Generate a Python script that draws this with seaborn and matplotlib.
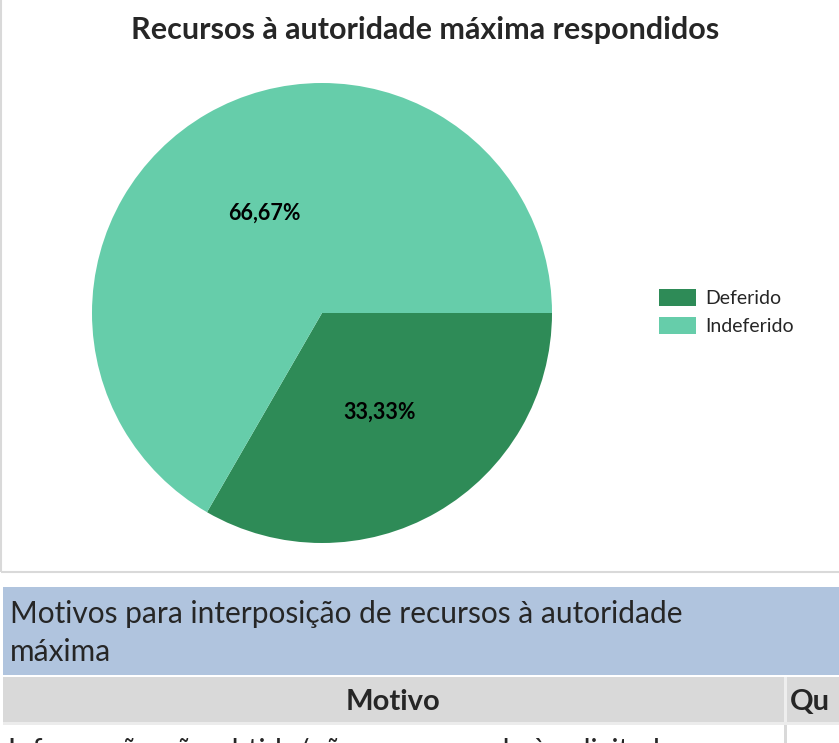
import matplotlib
matplotlib.use("Agg")
import matplotlib.pyplot as plt
from matplotlib.patches import Rectangle
import seaborn as sns

# data
categorias = ["Deferido", "Indeferido"]
quantidades = [1, 2]
cores = ["#2E8B57", "#66CDAA"]

titulo = "Recursos à autoridade máxima respondidos"
titulo_tabela = "Motivos para interposição de recursos à autoridade\nmáxima"
colunas_tabela = ["Motivo", "Qu"]
primeira_linha = "Informação não obtida/não corresponde à solicitada"

sns.set_theme(style="white")
plt.rcParams["font.family"] = ["Lato", "DejaVu Sans"]

W, H = 839, 743
fig = plt.figure(figsize=(W / 100, H / 100), dpi=100)
fig.patch.set_facecolor("white")


def px_rect(x0, y0, x1, y1, **kw):
    # rectangle given in image pixels (y from the top)
    r = Rectangle((x0 / W, 1 - y1 / H), (x1 - x0) / W, (y1 - y0) / H,
                  transform=fig.transFigure, zorder=-1, **kw)
    fig.patches.append(r)


def px_text(x, y, s, **kw):
    fig.text(x / W, 1 - y / H, s, **kw)


# chart frame
px_rect(0.5, -2, W + 2, 572, facecolor="none", edgecolor="#d9d9d9", linewidth=1.5)

# pie
cx, cy, r = 322, 313, 230
ax = fig.add_axes([(cx - r) / W, 1 - (cy + r) / H, 2 * r / W, 2 * r / H])
wedges, textos, pcts = ax.pie(
    quantidades, colors=cores, startangle=0, counterclock=False,
    autopct=lambda p: f"{p:.2f}%".replace(".", ","), pctdistance=0.5,
    wedgeprops=dict(linewidth=0),
    textprops=dict(fontsize=15.5, fontweight="bold", color="black"))
ax.set_xlim(-1, 1)
ax.set_ylim(-1, 1)
ax.set_aspect("equal")
ax.axis("off")

px_text(425, 30, titulo, fontsize=22, fontweight="bold", ha="center", va="center")

leg = fig.legend(wedges, categorias, loc="upper left",
                 bbox_to_anchor=(641 / W, 1 - 271 / H), frameon=False,
                 fontsize=14, handlelength=1.95, handleheight=1.0,
                 handletextpad=0.45, labelspacing=0.5)

# table header below the chart
px_rect(3, 587, W + 2, 675, facecolor="#B0C4DE", edgecolor="none")
px_text(10, 633, titulo_tabela, fontsize=21.5, ha="left", va="center",
        linespacing=1.45)
px_rect(3, 677, W + 2, 722, facecolor="#D9D9D9", edgecolor="none")
px_rect(784, 677, 787, 722, facecolor="#eeeeee", edgecolor="none")
px_text(393, 702, colunas_tabela[0], fontsize=21, fontweight="bold",
        ha="center", va="center")
px_text(790, 702, colunas_tabela[1], fontsize=21, fontweight="bold",
        ha="left", va="center")
px_rect(3, 722, W + 2, 725, facecolor="#ececec", edgecolor="none")
px_rect(784, 725, 787, H + 2, facecolor="#d9d9d9", edgecolor="none")
px_text(8, 751, primeira_linha, fontsize=21, ha="left", va="center")

fig.savefig("out.png", dpi=100)
